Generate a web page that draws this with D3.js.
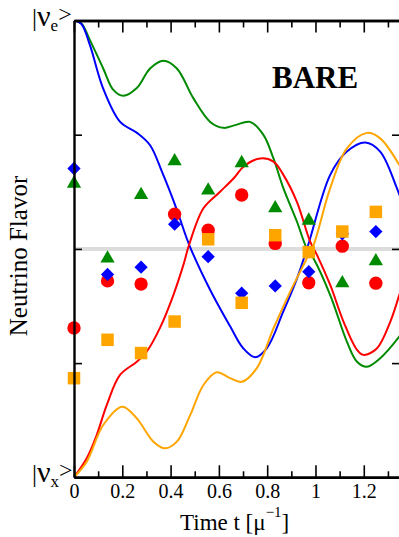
<!DOCTYPE html>
<html>
<head>
<meta charset="utf-8">
<script src="https://cdn.jsdelivr.net/npm/d3@7"></script>
<style>
  body { margin: 0; background: #fff; }
  svg { display: block; }
  text { font-family: "Liberation Serif", "Times New Roman", serif; fill: #000; }
</style>
</head>
<body>
<svg id="chart" width="399" height="537"></svg>
<script>
// Sampled time steps for the point markers
const markerTimes = [0, 0.1389, 0.2778, 0.4167, 0.5556, 0.6944, 0.8333, 0.9722, 1.1111, 1.25];
// Flavor content at each sampled step, one array per species
const redCircles     = [0.327, 0.430, 0.423, 0.576, 0.541, 0.618, 0.512, 0.426, 0.506, 0.425];
const blueDiamonds   = [0.676, 0.444, 0.460, 0.554, 0.483, 0.403, 0.419, 0.450, 0.533, 0.538];
const greenTriangles = [0.643, 0.479, 0.618, 0.692, 0.628, 0.688, 0.589, 0.562, 0.425, 0.473];
const orangeSquares  = [0.217, 0.301, 0.272, 0.341, 0.521, 0.382, 0.530, 0.493, 0.538, 0.581];

// Continuous evolution curves: [time, flavor]
const blueCurve = [[0,1],[0.03,0.993],[0.066,0.946],[0.120,0.852],[0.191,0.778],[0.261,0.754],[0.315,0.727],
  [0.365,0.668],[0.423,0.590],[0.477,0.509],[0.564,0.41],[0.646,0.331],[0.700,0.283],[0.750,0.263],
  [0.799,0.283],[0.866,0.362],[0.924,0.436],[0.970,0.509],[1.061,0.662],[1.130,0.713],[1.206,0.733],
  [1.268,0.713],[1.337,0.633],[1.36,0.60]];
const redCurve = [[0,0],[0.0526,0.0416],[0.094,0.0926],[0.1355,0.158],[0.1906,0.224],[0.260,0.253],
  [0.301,0.275],[0.356,0.327],[0.4115,0.399],[0.453,0.465],[0.4766,0.509],[0.536,0.589],[0.605,0.625],
  [0.667,0.658],[0.7016,0.680],[0.771,0.698],[0.826,0.691],[0.867,0.662],[0.923,0.603],[0.978,0.516],
  [1.006,0.487],[1.061,0.421],[1.116,0.341],[1.172,0.279],[1.199,0.268],[1.254,0.282],[1.310,0.341],
  [1.347,0.399],[1.36,0.42]];
const greenCurve = [[0,1],[0.03,0.994],[0.066,0.957],[0.121,0.895],[0.163,0.848],[0.204,0.835],[0.260,0.852],
  [0.315,0.895],[0.370,0.912],[0.426,0.895],[0.494,0.830],[0.564,0.778],[0.619,0.765],[0.667,0.771],
  [0.729,0.778],[0.785,0.749],[0.826,0.698],[0.867,0.633],[0.923,0.560],[0.964,0.501],[0.992,0.479],
  [1.061,0.399],[1.130,0.297],[1.172,0.253],[1.213,0.242],[1.268,0.2605],[1.347,0.308],[1.36,0.318]];
const orangeCurve = [[0,0],[0.0526,0.034],[0.121,0.1145],[0.200,0.1546],[0.260,0.129],[0.329,0.078],
  [0.377,0.0635],[0.426,0.078],[0.481,0.136],[0.536,0.202],[0.591,0.230],[0.646,0.217],[0.695,0.209],
  [0.757,0.239],[0.826,0.326],[0.895,0.406],[0.964,0.479],[0.992,0.5085],[1.061,0.633],[1.130,0.720],
  [1.213,0.754],[1.268,0.742],[1.347,0.684],[1.36,0.67]];

// Axis ticks
const xMajorTicks = [0, 0.2, 0.4, 0.6, 0.8, 1, 1.2];
const xTickLabels = ["0", "0.2", "0.4", "0.6", "0.8", "1", "1.2"];
const xMinorTicks = [0.1, 0.3, 0.5, 0.7, 0.9, 1.1, 1.3];
const yTicks = [0.25, 0.5, 0.75];

const svg = d3.select("#chart");
const plotLeft = 74, plotRight = 400, plotTop = 20.5, plotBottom = 477.3;

const x = d3.scaleLinear().domain([0, 1.35]).range([plotLeft, plotRight]);
const y = d3.scaleLinear().domain([0, 1]).range([plotBottom, plotTop]);

svg.append("defs").append("clipPath").attr("id", "plotClip")
  .append("rect").attr("x", plotLeft).attr("y", plotTop)
  .attr("width", plotRight - plotLeft).attr("height", plotBottom - plotTop);

// Reference line at equal mixing
svg.append("line")
  .attr("x1", x(0)).attr("x2", x(1.35))
  .attr("y1", y(0.5)).attr("y2", y(0.5))
  .attr("stroke", "#dcdcdc").attr("stroke-width", 4);

// Evolution curves
const line = d3.line().x(d => x(d[0])).y(d => y(d[1])).curve(d3.curveCatmullRom.alpha(0.5));
const curves = [
  { data: greenCurve, color: "#008a00" },
  { data: blueCurve, color: "#0000ff" },
  { data: redCurve, color: "#ff0000" },
  { data: orangeCurve, color: "#ffa500" }
];
const curveG = svg.append("g").attr("clip-path", "url(#plotClip)");
curves.forEach(c => {
  curveG.append("path").datum(c.data)
    .attr("d", line)
    .attr("fill", "none")
    .attr("stroke", c.color)
    .attr("stroke-width", 2);
});

// Point markers
function drawMarkers(values, type, size, color, rotate) {
  svg.append("g").selectAll("path")
    .data(values)
    .join("path")
    .attr("d", d3.symbol().type(type).size(size))
    .attr("transform", (d, i) => `translate(${x(markerTimes[i])},${y(d)})` + (rotate ? ` rotate(${rotate})` : ""))
    .attr("fill", color);
}
drawMarkers(redCircles, d3.symbolCircle, 140, "#ff0000");
drawMarkers(greenTriangles, d3.symbolTriangle, 88, "#008a00");
drawMarkers(blueDiamonds, d3.symbolSquare, 88, "#0000ff", 45);
drawMarkers(orangeSquares, d3.symbolSquare, 156, "#ffa500");

// Axes
function styleAxis(g) {
  g.select(".domain").attr("stroke", "#000").attr("stroke-width", 2.4);
  g.selectAll(".tick line").attr("stroke", "#000").attr("stroke-width", 1.6);
  g.selectAll(".tick text").attr("font-size", 20)
    .attr("font-family", "'Liberation Serif', 'Times New Roman', serif").attr("fill", "#000");
}

svg.append("g").attr("transform", `translate(0,${plotBottom})`)
  .call(d3.axisBottom(x).tickValues(xMinorTicks).tickSizeInner(-6).tickSizeOuter(0).tickFormat(""))
  .call(styleAxis);
svg.append("g").attr("transform", `translate(0,${plotBottom})`)
  .call(d3.axisBottom(x).tickValues(xMajorTicks).tickSizeInner(-12).tickSizeOuter(0).tickPadding(7)
    .tickFormat((d, i) => xTickLabels[i]))
  .call(styleAxis);

svg.append("g").attr("transform", `translate(0,${plotTop})`)
  .call(d3.axisTop(x).tickValues(xMinorTicks).tickSizeInner(-7).tickSizeOuter(0).tickFormat(""))
  .call(styleAxis);
svg.append("g").attr("transform", `translate(0,${plotTop})`)
  .call(d3.axisTop(x).tickValues(xMajorTicks).tickSizeInner(-12).tickSizeOuter(0).tickFormat(""))
  .call(styleAxis);

svg.append("g").attr("transform", `translate(${plotLeft},0)`)
  .call(d3.axisLeft(y).tickValues(yTicks).tickSizeInner(-8).tickSizeOuter(0).tickFormat(""))
  .call(styleAxis);
svg.append("g").attr("transform", `translate(${plotRight},0)`)
  .call(d3.axisRight(y).tickValues(yTicks).tickSizeInner(-8).tickSizeOuter(0).tickFormat(""))
  .call(styleAxis);

// Flavor state labels on the vertical axis
function ket(yBase, sub) {
  const t = svg.append("text").attr("x", 32).attr("y", yBase);
  t.append("tspan").attr("font-size", 25).text("|");
  t.append("tspan").attr("font-size", 30).text("ν");
  t.append("tspan").attr("font-size", 17).attr("dy", 5).text(sub);
  t.append("tspan").attr("font-size", 24).attr("dy", -9).text(">");
}
ket(26, "e");
ket(482, "x");

// Axis titles
const xt = svg.append("text").attr("x", 180).attr("y", 530).attr("font-size", 23);
xt.append("tspan").text("Time t [μ");
xt.append("tspan").attr("font-size", 15).attr("dy", -13).text("−1");
xt.append("tspan").attr("dy", 13).text("]");

svg.append("text")
  .attr("transform", "translate(27,256) rotate(-90)")
  .attr("text-anchor", "middle")
  .attr("font-size", 25)
  .text("Neutrino Flavor");

// Panel tag
svg.append("text")
  .attr("x", 272).attr("y", 88)
  .attr("font-size", 31).attr("font-weight", "bold")
  .text("BARE");
</script>
</body>
</html>
